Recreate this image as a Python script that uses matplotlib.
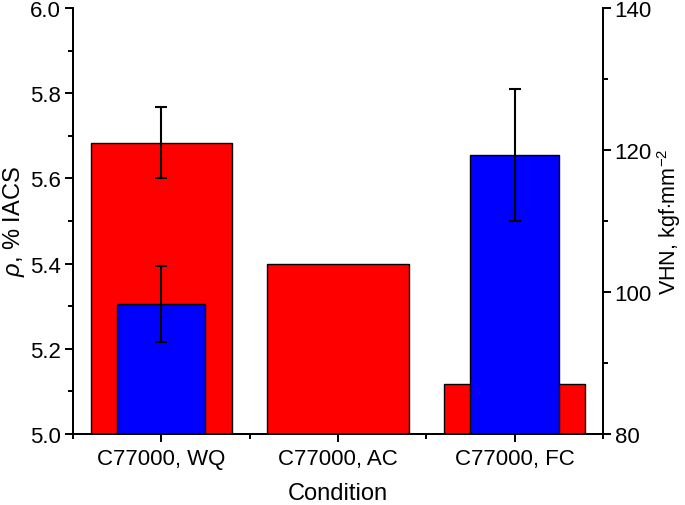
import matplotlib
matplotlib.use("Agg")
import matplotlib.pyplot as plt
import numpy as np

plt.rcParams["font.family"] = ["Liberation Sans", "DejaVu Sans"]
plt.rcParams["mathtext.fontset"] = "custom"
plt.rcParams["mathtext.rm"] = "Liberation Sans"
plt.rcParams["mathtext.it"] = "Liberation Sans:italic"

conditions = ["C77000, WQ", "C77000, AC", "C77000, FC"]
rho = [5.684, 5.400, 5.118]
rho_err = [0.084, np.nan, np.nan]
vhn = [98.3, np.nan, 119.3]
vhn_err = [5.4, np.nan, 9.25]

x = np.arange(1, len(conditions) + 1)

fig = plt.figure(figsize=(6.85, 5.06), dpi=100)
ax = fig.add_axes([0.1066, 0.1403, 0.7734, 0.8417])
ax2 = ax.twinx()

ax.bar(x, rho, 0.8, color="#ff0000", edgecolor="black", linewidth=1.0, zorder=2)
ax.errorbar(x, rho, yerr=rho_err, fmt="none", ecolor="black", elinewidth=1.5,
            capsize=4.5, capthick=1.5, zorder=3)
ax2.bar(x, vhn, 0.5, color="#0000ff", edgecolor="black", linewidth=1.0, zorder=2)
ax2.errorbar(x, vhn, yerr=vhn_err, fmt="none", ecolor="black", elinewidth=1.5,
             capsize=4.5, capthick=1.5, zorder=3)

ax.set_xlim(0.5, 3.5)
ax.set_ylim(5.0, 6.0)
ax2.set_ylim(80, 140)
ax.set_xticks(x)
ax.set_xticklabels(conditions)
ax.set_xticks([0.5, 1.5, 2.5, 3.5], minor=True)
ax.set_yticks(np.arange(5.0, 6.01, 0.2))
ax.set_yticks(np.arange(5.1, 6.0, 0.2), minor=True)
ax2.set_yticks(np.arange(80, 141, 20))
ax2.set_yticks(np.arange(90, 140, 20), minor=True)

for a in (ax, ax2):
    a.spines["top"].set_visible(False)
    for s in a.spines.values():
        s.set_linewidth(1.4)
    a.tick_params(which="major", direction="out", length=6, width=1.4,
                  labelsize=16, pad=2.5)
    a.tick_params(which="minor", direction="out", length=3.5, width=1.4)
ax.tick_params(axis="x", which="major", pad=4)
ax.yaxis.set_major_formatter(matplotlib.ticker.FormatStrFormatter("%.1f"))

ax.set_xlabel("Condition", fontsize=17)
ax.set_ylabel(r"$\rho$, % IACS", fontsize=17)
ax2.set_ylabel(r"VHN, kgf$\cdot$mm$^{-2}$", fontsize=15.5)
ax.xaxis.set_label_coords(0.5, -0.112)
ax.yaxis.set_label_coords(-0.087, 0.5)
ax2.yaxis.set_label_coords(1.099, 0.5)

fig.savefig("out.png", dpi=100)
